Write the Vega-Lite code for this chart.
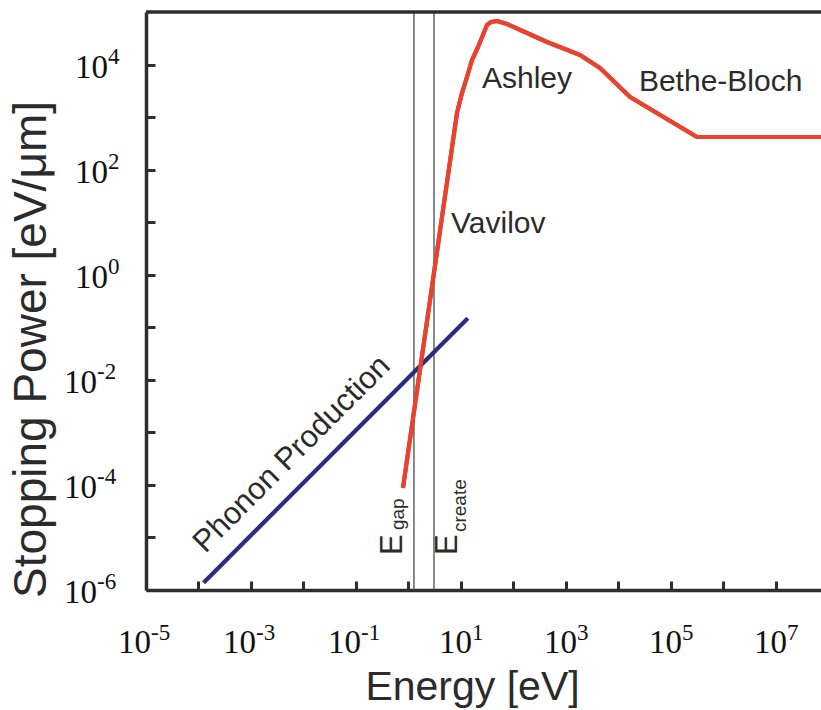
{
  "$schema": "https://vega.github.io/schema/vega-lite/v6.json",
  "width": 675,
  "height": 578,
  "autosize": {"type": "none"},
  "padding": {"left": 146, "top": 12, "right": 0, "bottom": 120},
  "background": "white",
  "config": {"view": {"stroke": null}, "font": "Liberation Sans"},
  "datasets": {
    "ionization": [
      {"E": 0.785, "S": 0.0000873},
      {"E": 8.39, "S": 1197},
      {"E": 10.45, "S": 2873},
      {"E": 13.0, "S": 5794},
      {"E": 16.2, "S": 12200},
      {"E": 21.1, "S": 21570},
      {"E": 26.2, "S": 36500},
      {"E": 31.3, "S": 56600},
      {"E": 37.3, "S": 64600},
      {"E": 48.5, "S": 67400},
      {"E": 75.2, "S": 59100},
      {"E": 181, "S": 39800},
      {"E": 435, "S": 26900},
      {"E": 1850, "S": 15200},
      {"E": 4440, "S": 8590},
      {"E": 16600, "S": 2410},
      {"E": 313000, "S": 418},
      {"E": 100000000, "S": 418}
    ],
    "phonon": [
      {"E": 0.000125, "S": 0.000001375},
      {"E": 13.5, "S": 0.1485}
    ],
    "thresholds": [
      {"name": "gap", "E": 1.27},
      {"name": "create", "E": 3.06}
    ],
    "frameTop": [{"S": 100000}],
    "xLabels": [
      {"E": 0.00001, "exp": "-5"},
      {"E": 0.001, "exp": "-3"},
      {"E": 0.1, "exp": "-1"},
      {"E": 10, "exp": "1"},
      {"E": 1000, "exp": "3"},
      {"E": 100000, "exp": "5"},
      {"E": 10000000, "exp": "7"}
    ],
    "yLabels": [
      {"S": 0.000001, "exp": "-6"},
      {"S": 0.0001, "exp": "-4"},
      {"S": 0.01, "exp": "-2"},
      {"S": 1, "exp": "0"},
      {"S": 100, "exp": "2"},
      {"S": 10000, "exp": "4"}
    ],
    "regions": [
      {"label": "Ashley", "E": 25.1, "S": 3580},
      {"label": "Bethe-Bloch", "E": 24500, "S": 3140},
      {"label": "Vavilov", "E": 6.45, "S": 6.22}
    ],
    "phononLabel": [
      {"label": "Phonon Production", "E": 0.01452, "S": 0.00016}
    ],
    "gapLabel": [{"E": 1.27, "S": 0.00000463, "sub": "gap"}],
    "createLabel": [{"E": 3.06, "S": 0.00000463, "sub": "create"}]
  },
  "layer": [
    {
      "data": {"name": "ionization"},
      "mark": {"type": "line", "color": "#e8432e", "strokeWidth": 4.2, "clip": true, "strokeJoin": "round"},
      "encoding": {
        "x": {
          "field": "E",
          "type": "quantitative",
          "scale": {"type": "log", "domain": [0.00001, 72000000], "nice": false},
          "axis": {
            "title": "Energy [eV]",
            "values": [0.00001, 0.0001, 0.001, 0.01, 0.1, 1, 10, 100, 1000, 10000, 100000, 1000000, 10000000],
            "labels": false,
            "grid": false,
            "domainColor": "#2e2e2e",
            "domainWidth": 3.5,
            "tickColor": "#2e2e2e",
            "tickWidth": 3,
            "tickSize": -9,
            "titleFont": "Liberation Sans",
            "titleFontSize": 41,
            "titleFontWeight": "normal",
            "titleColor": "#2b2b2b",
            "titleX": 326,
            "titleY": 109,
            "titleAlign": "center",
            "titleBaseline": "alphabetic"
          }
        },
        "y": {
          "field": "S",
          "type": "quantitative",
          "scale": {"type": "log", "domain": [0.000001, 100000], "nice": false},
          "axis": {
            "title": "Stopping Power [eV/μm]",
            "values": [0.000001, 0.00001, 0.0001, 0.001, 0.01, 0.1, 1, 10, 100, 1000, 10000],
            "labels": false,
            "grid": false,
            "domainColor": "#2e2e2e",
            "domainWidth": 3.5,
            "tickColor": "#2e2e2e",
            "tickWidth": 3,
            "tickSize": -9,
            "titleFont": "Liberation Sans",
            "titleFontSize": 46,
            "titleFontWeight": "normal",
            "titleColor": "#2b2b2b",
            "titleAngle": 270,
            "titleX": -101,
            "titleY": 337,
            "titleAlign": "center",
            "titleBaseline": "alphabetic"
          }
        }
      }
    },
    {
      "data": {"name": "thresholds"},
      "mark": {"type": "rule", "color": "#4a4a4a", "strokeWidth": 1.3},
      "encoding": {
        "x": {"field": "E", "type": "quantitative", "scale": {"type": "log"}}
      }
    },
    {
      "data": {"name": "phonon"},
      "mark": {"type": "line", "color": "#2c2c7e", "strokeWidth": 4.2, "clip": true},
      "encoding": {
        "x": {"field": "E", "type": "quantitative", "scale": {"type": "log"}},
        "y": {"field": "S", "type": "quantitative", "scale": {"type": "log"}}
      }
    },
    {
      "data": {"name": "ionization"},
      "mark": {"type": "line", "color": "#e8432e", "strokeWidth": 4.2, "clip": true, "strokeJoin": "round"},
      "encoding": {
        "x": {"field": "E", "type": "quantitative", "scale": {"type": "log"}},
        "y": {"field": "S", "type": "quantitative", "scale": {"type": "log"}}
      }
    },
    {
      "data": {"name": "frameTop"},
      "mark": {"type": "rule", "color": "#2e2e2e", "strokeWidth": 3.5},
      "encoding": {
        "y": {"field": "S", "type": "quantitative", "scale": {"type": "log"}}
      }
    },
    {
      "data": {"name": "xLabels"},
      "transform": [{"filter": "datum.E < 1"}],
      "mark": {"type": "text", "align": "right", "baseline": "alphabetic", "dx": 5, "dy": 63, "fontSize": 33, "color": "#111111", "font": "Liberation Serif", "text": "10"},
      "encoding": {
        "x": {"field": "E", "type": "quantitative", "scale": {"type": "log"}},
        "y": {"datum": 0.000001, "type": "quantitative", "scale": {"type": "log"}}
      }
    },
    {
      "data": {"name": "xLabels"},
      "transform": [{"filter": "datum.E < 1"}],
      "mark": {"type": "text", "align": "left", "baseline": "alphabetic", "dx": 5, "dy": 50, "fontSize": 23, "color": "#111111", "font": "Liberation Serif"},
      "encoding": {
        "x": {"field": "E", "type": "quantitative", "scale": {"type": "log"}},
        "y": {"datum": 0.000001, "type": "quantitative", "scale": {"type": "log"}},
        "text": {"field": "exp"}
      }
    },
    {
      "data": {"name": "xLabels"},
      "transform": [{"filter": "datum.E > 1"}],
      "mark": {"type": "text", "align": "right", "baseline": "alphabetic", "dx": 11, "dy": 63, "fontSize": 33, "color": "#111111", "font": "Liberation Serif", "text": "10"},
      "encoding": {
        "x": {"field": "E", "type": "quantitative", "scale": {"type": "log"}},
        "y": {"datum": 0.000001, "type": "quantitative", "scale": {"type": "log"}}
      }
    },
    {
      "data": {"name": "xLabels"},
      "transform": [{"filter": "datum.E > 1"}],
      "mark": {"type": "text", "align": "left", "baseline": "alphabetic", "dx": 11, "dy": 50, "fontSize": 23, "color": "#111111", "font": "Liberation Serif"},
      "encoding": {
        "x": {"field": "E", "type": "quantitative", "scale": {"type": "log"}},
        "y": {"datum": 0.000001, "type": "quantitative", "scale": {"type": "log"}},
        "text": {"field": "exp"}
      }
    },
    {
      "data": {"name": "yLabels"},
      "transform": [{"filter": "datum.S < 1"}],
      "mark": {"type": "text", "align": "right", "baseline": "alphabetic", "dx": -49, "dy": 13, "fontSize": 33, "color": "#111111", "font": "Liberation Serif", "text": "10"},
      "encoding": {
        "x": {"datum": 0.00001, "type": "quantitative", "scale": {"type": "log"}},
        "y": {"field": "S", "type": "quantitative", "scale": {"type": "log"}}
      }
    },
    {
      "data": {"name": "yLabels"},
      "transform": [{"filter": "datum.S < 1"}],
      "mark": {"type": "text", "align": "left", "baseline": "alphabetic", "dx": -49, "dy": -1, "fontSize": 23, "color": "#111111", "font": "Liberation Serif"},
      "encoding": {
        "x": {"datum": 0.00001, "type": "quantitative", "scale": {"type": "log"}},
        "y": {"field": "S", "type": "quantitative", "scale": {"type": "log"}},
        "text": {"field": "exp"}
      }
    },
    {
      "data": {"name": "yLabels"},
      "transform": [{"filter": "datum.S >= 1"}],
      "mark": {"type": "text", "align": "right", "baseline": "alphabetic", "dx": -38, "dy": 13, "fontSize": 33, "color": "#111111", "font": "Liberation Serif", "text": "10"},
      "encoding": {
        "x": {"datum": 0.00001, "type": "quantitative", "scale": {"type": "log"}},
        "y": {"field": "S", "type": "quantitative", "scale": {"type": "log"}}
      }
    },
    {
      "data": {"name": "yLabels"},
      "transform": [{"filter": "datum.S >= 1"}],
      "mark": {"type": "text", "align": "left", "baseline": "alphabetic", "dx": -38, "dy": -1, "fontSize": 23, "color": "#111111", "font": "Liberation Serif"},
      "encoding": {
        "x": {"datum": 0.00001, "type": "quantitative", "scale": {"type": "log"}},
        "y": {"field": "S", "type": "quantitative", "scale": {"type": "log"}},
        "text": {"field": "exp"}
      }
    },
    {
      "data": {"name": "regions"},
      "mark": {"type": "text", "align": "left", "baseline": "alphabetic", "fontSize": 30, "color": "#2b2b2b", "font": "Liberation Sans"},
      "encoding": {
        "x": {"field": "E", "type": "quantitative", "scale": {"type": "log"}},
        "y": {"field": "S", "type": "quantitative", "scale": {"type": "log"}},
        "text": {"field": "label"}
      }
    },
    {
      "data": {"name": "phononLabel"},
      "mark": {"type": "text", "align": "center", "baseline": "alphabetic", "angle": -45, "dy": -19, "fontSize": 31, "color": "#2b2b2b", "font": "Liberation Sans"},
      "encoding": {
        "x": {"field": "E", "type": "quantitative", "scale": {"type": "log"}},
        "y": {"field": "S", "type": "quantitative", "scale": {"type": "log"}},
        "text": {"field": "label"}
      }
    },
    {
      "data": {"name": "gapLabel"},
      "mark": {"type": "text", "align": "left", "baseline": "alphabetic", "angle": -90, "dy": -12, "fontSize": 31, "color": "#2b2b2b", "font": "Liberation Sans", "text": "E"},
      "encoding": {
        "x": {"field": "E", "type": "quantitative", "scale": {"type": "log"}},
        "y": {"field": "S", "type": "quantitative", "scale": {"type": "log"}}
      }
    },
    {
      "data": {"name": "gapLabel"},
      "mark": {"type": "text", "align": "left", "baseline": "alphabetic", "angle": -90, "dx": 25, "dy": -10, "fontSize": 19, "color": "#2b2b2b", "font": "Liberation Sans"},
      "encoding": {
        "x": {"field": "E", "type": "quantitative", "scale": {"type": "log"}},
        "y": {"field": "S", "type": "quantitative", "scale": {"type": "log"}},
        "text": {"field": "sub"}
      }
    },
    {
      "data": {"name": "createLabel"},
      "mark": {"type": "text", "align": "left", "baseline": "alphabetic", "angle": -90, "dy": 23, "fontSize": 31, "color": "#2b2b2b", "font": "Liberation Sans", "text": "E"},
      "encoding": {
        "x": {"field": "E", "type": "quantitative", "scale": {"type": "log"}},
        "y": {"field": "S", "type": "quantitative", "scale": {"type": "log"}}
      }
    },
    {
      "data": {"name": "createLabel"},
      "mark": {"type": "text", "align": "left", "baseline": "alphabetic", "angle": -90, "dx": 23, "dy": 32, "fontSize": 19, "color": "#2b2b2b", "font": "Liberation Sans"},
      "encoding": {
        "x": {"field": "E", "type": "quantitative", "scale": {"type": "log"}},
        "y": {"field": "S", "type": "quantitative", "scale": {"type": "log"}},
        "text": {"field": "sub"}
      }
    }
  ]
}
